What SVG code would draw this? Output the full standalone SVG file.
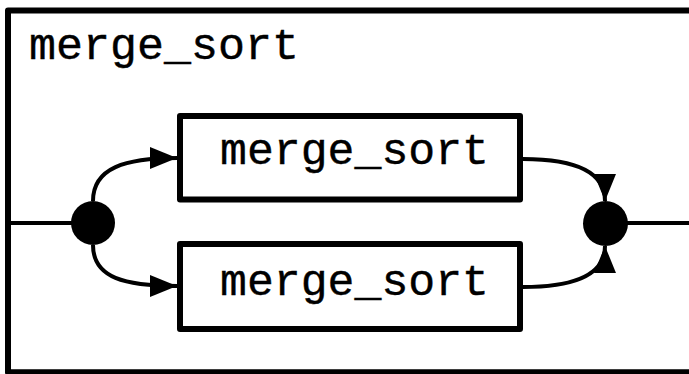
<svg xmlns="http://www.w3.org/2000/svg" width="689" height="374" viewBox="0 0 689 374">
<style>
.frame{fill:none;stroke:#000;stroke-width:6;stroke-linejoin:round}
.box{fill:#fff;stroke:#000;stroke-width:6;stroke-linejoin:round}
.lbl{font-family:"Liberation Mono","Courier New",monospace;font-size:44px;fill:#000;stroke:#000;stroke-width:0.4}
.wire{fill:none;stroke:#000;stroke-width:4}
.dot{fill:#000}
</style>
<defs>
<marker id="arr" markerUnits="userSpaceOnUse" markerWidth="28" markerHeight="22" refX="27" refY="11" orient="auto" overflow="visible">
<path d="M0,0 L27,11 L0,22 z" fill="#000"/>
</marker>
</defs>
<g id="outer">
<rect class="frame" x="8" y="10.5" width="700" height="361.8"/>
<text class="lbl" x="29" y="59" textLength="270" lengthAdjust="spacingAndGlyphs">merge_sort</text>
</g>
<g id="connectors">
<line class="wire" x1="8" y1="223" x2="93" y2="223"/>
<line class="wire" x1="605" y1="223" x2="689" y2="223"/>
<path class="wire" d="M93 201 C93 168 125 158 177 158" marker-end="url(#arr)"/>
<path class="wire" d="M93 245 C93 278 125 286 177 286" marker-end="url(#arr)"/>
<path class="wire" d="M523 159 C572 159 605 170 605 201" marker-end="url(#arr)"/>
<path class="wire" d="M523 287 C572 287 605 276 605 246" marker-end="url(#arr)"/>
</g>
<g id="split">
<circle class="dot" cx="93" cy="223" r="22"/>
</g>
<g id="join">
<circle class="dot" cx="605.5" cy="223.5" r="22.5"/>
</g>
<g id="sort1">
<rect class="box" x="180" y="116" width="340" height="83.5"/>
<text class="lbl" x="220" y="163.5" textLength="269" lengthAdjust="spacingAndGlyphs">merge_sort</text>
</g>
<g id="sort2">
<rect class="box" x="180" y="244" width="340" height="85"/>
<text class="lbl" x="220" y="295" textLength="269" lengthAdjust="spacingAndGlyphs">merge_sort</text>
</g>
</svg>
